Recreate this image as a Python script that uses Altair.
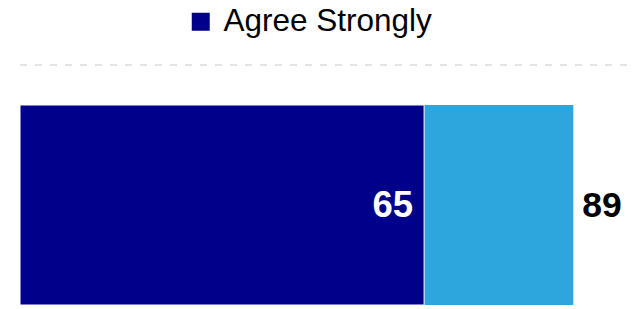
import altair as alt
import pandas as pd

# data
segments = ["Agree Strongly", "Agree Somewhat"]
seg_start = [0, 65]
seg_end = [65, 89]
label_values = [65, 89]
axis_domain = [0, 98.6]
row = "All"

bars = pd.DataFrame({"segment": segments, "start": seg_start, "end": seg_end, "row": [row, row]})
labels = pd.DataFrame({"value": label_values, "row": [row, row], "kind": ["inner", "total"]})
rule_df = pd.DataFrame({"start": [axis_domain[0]], "end": [axis_domain[1]]})

FONT = "Liberation Sans"
DARK = "#00008B"
LIGHT = "#2CA6DD"

xscale = alt.Scale(domain=axis_domain, nice=False, zero=False)
yscale = alt.Scale(paddingInner=0, paddingOuter=0.1, align=1)

rule = alt.Chart(rule_df).mark_rule(color="#C8C8C8", strokeDash=[7, 8], strokeWidth=1).encode(
    x=alt.X("start:Q", scale=xscale, axis=None),
    x2="end:Q",
    y=alt.value(0),
)

light = alt.Chart(bars).transform_filter(alt.datum.segment == "Agree Somewhat").mark_bar(
    color=LIGHT, cornerRadius=0
).encode(
    x=alt.X("start:Q", scale=xscale, axis=None),
    x2="end:Q",
    y=alt.Y("row:N", scale=yscale, axis=None),
)

dark = alt.Chart(bars).transform_filter(alt.datum.segment == "Agree Strongly").mark_bar(
    stroke="white", strokeWidth=1
).encode(
    x=alt.X("start:Q", scale=xscale, axis=None),
    x2="end:Q",
    y=alt.Y("row:N", scale=yscale, axis=None),
    color=alt.Color(
        "segment:N",
        scale=alt.Scale(domain=["Agree Strongly"], range=[DARK]),
        legend=alt.Legend(
            title=None,
            orient="none",
            legendX=165,
            legendY=-59,
            symbolType="square",
            symbolSize=324,
            symbolStrokeWidth=0,
            labelFont=FONT,
            labelFontSize=31.5,
            labelColor="black",
            labelOffset=7,
            labelLimit=0,
            padding=0,
        ),
    ),
)

inner_text = alt.Chart(labels).transform_filter(alt.datum.kind == "inner").mark_text(
    font=FONT, fontSize=36.5, fontWeight="bold", color="white", align="right", baseline="middle", dx=-11, dy=1
).encode(
    x=alt.X("value:Q", scale=xscale, axis=None),
    y=alt.Y("row:N", scale=yscale, axis=None),
    text="value:Q",
)

total_text = alt.Chart(labels).transform_filter(alt.datum.kind == "total").mark_text(
    font=FONT, fontSize=35.5, fontWeight="bold", color="black", align="left", baseline="middle", dx=9, dy=1
).encode(
    x=alt.X("value:Q", scale=xscale, axis=None),
    y=alt.Y("row:N", scale=yscale, axis=None),
    text="value:Q",
)

chart = alt.layer(rule, light, dark, inner_text, total_text).properties(
    width=613,
    height=240,
    autosize=alt.AutoSizeParams(type="none"),
    padding={"left": 12, "top": 57, "right": 0, "bottom": 0},
).configure_view(stroke=None)

chart.save("out.html", embed_options={"renderer": "svg", "actions": False})
